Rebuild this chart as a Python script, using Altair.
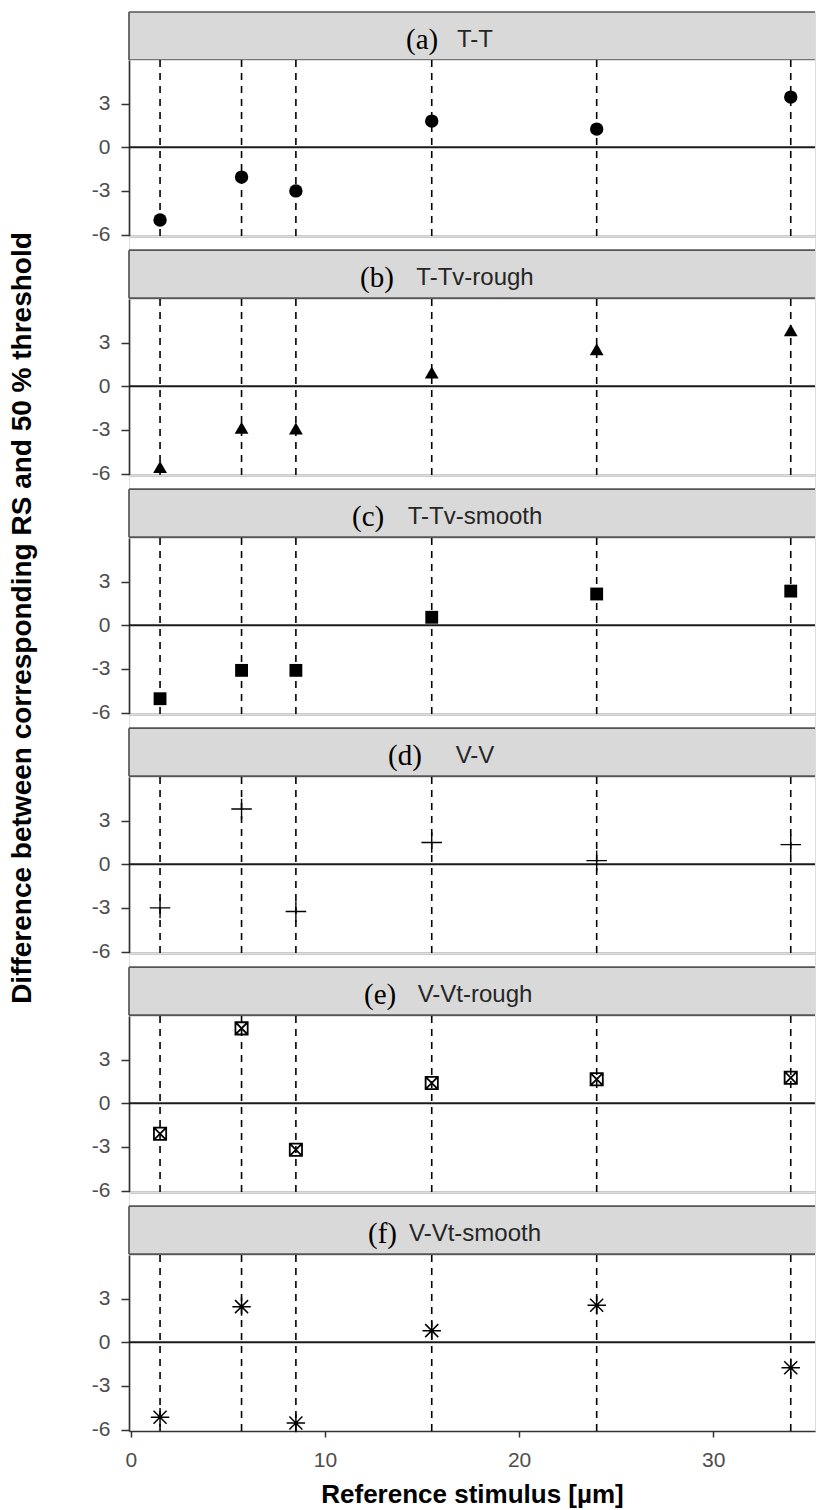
import altair as alt
import pandas as pd

# Reference stimuli (µm), shared by all six conditions
x_ref = [1.5, 5.7, 8.5, 15.5, 24.0, 34.0]

tags = ["(a)", "(b)", "(c)", "(d)", "(e)", "(f)"]
conditions = ["T-T", "T-Tv-rough", "T-Tv-smooth", "V-V", "V-Vt-rough", "V-Vt-smooth"]

# Difference between the reference stimulus and the 50 % threshold
diff_tt = [-5.0, -2.05, -3.0, 1.8, 1.25, 3.45]
diff_tt_rough = [-5.55, -2.85, -2.9, 0.95, 2.55, 3.85]
diff_tt_smooth = [-5.05, -3.1, -3.1, 0.55, 2.15, 2.35]
diff_vv = [-3.0, 3.8, -3.25, 1.5, 0.25, 1.35]
diff_vv_rough = [-2.1, 5.15, -3.2, 1.4, 1.65, 1.75]
diff_vv_smooth = [-5.15, 2.45, -5.55, 0.8, 2.55, -1.75]
series = [diff_tt, diff_tt_rough, diff_tt_smooth, diff_vv, diff_vv_rough, diff_vv_smooth]

y_ticks = [-6, -3, 0, 3]
x_ticks = [0, 10, 20, 30]

x_title = "Reference stimulus [µm]"
y_title = "Difference between corresponding RS and 50 % threshold"

# ---- layout and style -------------------------------------------------------
W = 686
STRIP_H = 48
PLOT_H = 176
GAP = 14.2
X_DOM = [-0.1, 35.25]
Y_DOM = [-6.1, 6.0]
TAG_X = [277, 231, 223, 259, 235, 239]
LABEL_X = 346

SANS = "Liberation Sans"
SERIF = "Liberation Serif"
STRIP_FILL = "#D9D9D9"
STRIP_EDGE = "#555555"
AXIS_COL = "#333333"
TICK_LABEL = "#4D4D4D"

PLUS = "M-1,0L1,0M0,-1L0,1"
SQUARE_CROSS = "M-1,-1L1,-1L1,1L-1,1ZM-1,-1L1,1M-1,1L1,-1"
ASTERISK = ("M-1,0L1,0M0,-1L0,1M-0.707,-0.707L0.707,0.707"
            "M-0.707,0.707L0.707,-0.707")

markers = [
    dict(shape="circle", filled=True, size=180, strokeWidth=0),
    dict(shape="triangle-up", filled=True, size=190, strokeWidth=0),
    dict(shape="square", filled=True, size=165, strokeWidth=0),
    dict(shape=PLUS, filled=False, size=420, strokeWidth=1.4),
    dict(shape=SQUARE_CROSS, filled=False, size=150, strokeWidth=1.8),
    dict(shape=ASTERISK, filled=False, size=340, strokeWidth=1.5),
]


def strip(i):
    h = STRIP_H if i == 0 else STRIP_H + GAP
    top = h - STRIP_H
    d = pd.DataFrame({"tag": [tags[i]], "label": [conditions[i]]})
    base = alt.Chart(d).properties(width=W, height=h)
    box = base.mark_rect(color=STRIP_FILL).encode(
        x=alt.value(0), x2=alt.value(W), y=alt.value(top), y2=alt.value(h))
    edge = dict(color=STRIP_EDGE, strokeWidth=1.7)
    top_edge = base.mark_rule(**edge).encode(
        x=alt.value(0), x2=alt.value(W), y=alt.value(top))
    bottom_edge = base.mark_rule(**edge).encode(
        x=alt.value(0), x2=alt.value(W), y=alt.value(h))
    left_edge = base.mark_rule(**edge).encode(
        x=alt.value(0), y=alt.value(top), y2=alt.value(h))
    label = base.mark_text(font=SANS, fontSize=24, color="#262626",
                           align="center", baseline="alphabetic").encode(
        x=alt.value(LABEL_X), y=alt.value(top + 35), text="label:N")
    tag = base.mark_text(font=SERIF, fontSize=29, color="black",
                         align="left", baseline="alphabetic").encode(
        x=alt.value(TAG_X[i]), y=alt.value(top + 37), text="tag:N")
    return alt.layer(box, top_edge, bottom_edge, left_edge, label, tag)


def panel(i):
    last = i == len(series) - 1
    d = pd.DataFrame({"x": x_ref, "y": series[i]})
    base = alt.Chart(d).properties(width=W, height=PLOT_H)

    if last:
        xaxis = alt.Axis(values=x_ticks, title=x_title, ticks=True, tickSize=6,
                         tickWidth=1.5, tickColor=AXIS_COL, labels=True,
                         labelFlush=False, labelPadding=12, labelFontSize=21,
                         labelColor=TICK_LABEL, labelFont=SANS, titleFont=SANS,
                         titleFontSize=26, titleFontWeight="bold",
                         titleColor="black", titlePadding=11,
                         domainColor=AXIS_COL, domainWidth=1.7, grid=False,
                         labelExpr="'' + datum.value")
    else:
        xaxis = alt.Axis(values=x_ticks, title=None, ticks=False, labels=False,
                         domainColor=AXIS_COL, domainWidth=1.7, grid=False)
    yaxis = alt.Axis(values=y_ticks, title=None, grid=False, tickSize=8,
                     tickWidth=1.5, tickColor=AXIS_COL, labelPadding=11,
                     labelFontSize=21, labelColor=TICK_LABEL, labelFont=SANS,
                     domainColor=AXIS_COL, domainWidth=1.7,
                     labelExpr="'' + datum.value")

    X = alt.X("x:Q", scale=alt.Scale(domain=X_DOM, nice=False, zero=False), axis=xaxis)
    Y = alt.Y("y:Q", scale=alt.Scale(domain=Y_DOM, nice=False, zero=False), axis=yaxis)

    # dashed vertical guide at every reference stimulus
    guides = base.mark_rule(color="black", strokeDash=[7, 6], strokeWidth=1.6).encode(
        x=X, y=alt.value(PLOT_H), y2=alt.value(0))
    zero = alt.Chart(pd.DataFrame({"z": [0]})).mark_rule(
        color="#1A1A1A", strokeWidth=1.9).encode(y=alt.datum(0))
    pts = base.mark_point(color="black", opacity=1, **markers[i]).encode(x=X, y=Y)

    layers = [guides, zero, pts]
    if i == 2:
        # shared y title, written once beside the middle of the stack
        ylab = alt.Chart(pd.DataFrame({"t": [y_title]})).mark_text(
            font=SANS, fontSize=28, fontWeight="bold", color="black", angle=270,
            align="center", baseline="middle").encode(
            x=alt.value(-106), y=alt.value(80), text="t:N")
        layers.append(ylab)
    return alt.layer(*layers)


rows = []
for k in range(len(series)):
    rows.append(strip(k))
    rows.append(panel(k))

chart = (
    alt.vconcat(*rows, spacing=0, bounds="flush")
    .properties(padding={"left": 8, "top": 10, "right": 0, "bottom": 0})
    .configure_view(stroke=None)
    .configure(font=SANS)
)

chart.save("out.html", embed_options={"renderer": "svg", "actions": False})
